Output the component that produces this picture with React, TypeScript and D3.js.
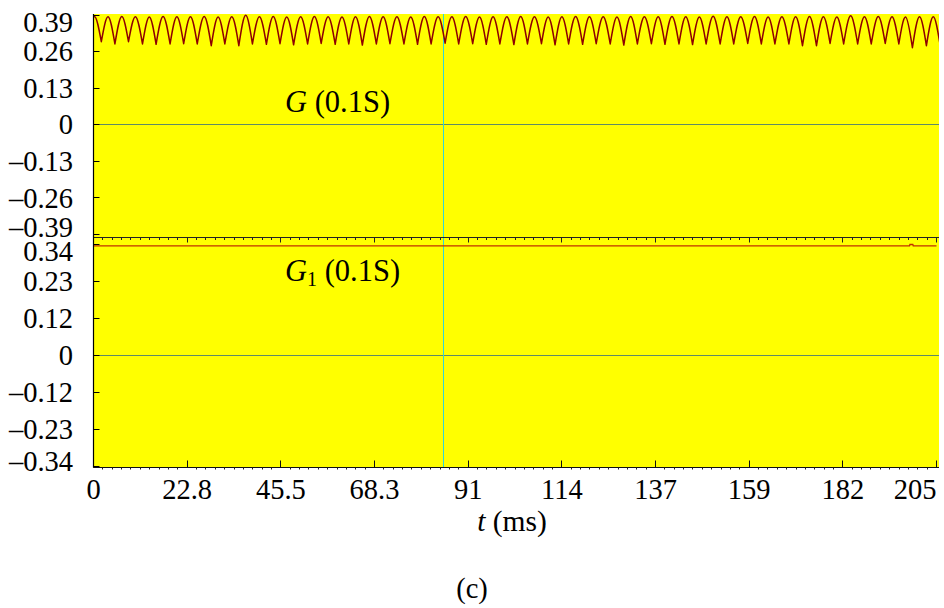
import React from "react";
import * as d3 from "d3";

// ---- data ----
const timeDomain = [0, 204.75];
const xTickValues = [0, 22.75, 45.5, 68.25, 91, 113.75, 136.5, 159.25, 182, 204.75];
const xTickLabels = ["0", "22.8", "45.5", "68.3", "91", "114", "137", "159", "182", "205"];

const gTickValues = [0.39, 0.26, 0.13, 0, -0.13, -0.26, -0.39];
const gTickLabels = ["0.39", "0.26", "0.13", "0", "\u20130.13", "\u20130.26", "\u20130.39"];
const g1TickValues = [0.34, 0.2267, 0.1133, 0, -0.1133, -0.2267, -0.34];
const g1TickLabels = ["0.34", "0.23", "0.12", "0", "\u20130.12", "\u20130.23", "\u20130.34"];

// times (ms) of the cusps (minima) of the rectified waveform G
const gCuspTimes = [
  -1.5, 1.9, 5.2, 8.5, 11.9, 15.2, 18.6, 21.9, 25.2, 28.6, 31.9, 35.3, 38.6, 42.0, 45.3, 48.6,
  52.0, 55.3, 58.7, 62.0, 65.3, 68.7, 72.0, 75.4, 78.7, 82.0, 85.4, 88.7, 92.1, 95.4, 98.7,
  102.1, 105.4, 108.8, 112.1, 115.4, 118.8, 122.1, 125.5, 128.8, 132.1, 135.5, 138.8, 142.2,
  145.5, 148.8, 152.2, 155.5, 158.9, 162.2, 165.5, 168.9, 172.2, 175.6, 178.9, 182.2, 185.6,
  188.9, 192.3, 195.6, 198.9, 202.3, 205.6,
];
// values of G at those cusps
const gCuspValues = [
  0.288, 0.295, 0.287, 0.295, 0.287, 0.286, 0.287, 0.288, 0.287, 0.281, 0.287, 0.281, 0.287,
  0.286, 0.288, 0.284, 0.287, 0.289, 0.286, 0.287, 0.283, 0.287, 0.288, 0.287, 0.286, 0.287,
  0.290, 0.287, 0.288, 0.286, 0.287, 0.285, 0.287, 0.288, 0.284, 0.287, 0.286, 0.288, 0.287,
  0.283, 0.287, 0.288, 0.286, 0.287, 0.285, 0.287, 0.287, 0.287, 0.289, 0.287, 0.287, 0.287,
  0.281, 0.281, 0.289, 0.287, 0.287, 0.287, 0.289, 0.287, 0.274, 0.281, 0.286,
];
// values of G at the top of each hump (between consecutive cusps)
const gPeakValues = [
  0.385, 0.384, 0.385, 0.384, 0.383, 0.385, 0.384, 0.384, 0.385, 0.383, 0.384, 0.389, 0.384,
  0.385, 0.383, 0.384, 0.385, 0.384, 0.383, 0.384, 0.385, 0.384, 0.384, 0.383, 0.385, 0.384,
  0.384, 0.385, 0.383, 0.384, 0.384, 0.385, 0.384, 0.383, 0.384, 0.385, 0.384, 0.384, 0.383,
  0.385, 0.384, 0.384, 0.385, 0.384, 0.383, 0.386, 0.384, 0.384, 0.385, 0.383, 0.384, 0.384,
  0.385, 0.384, 0.383, 0.387, 0.384, 0.385, 0.384, 0.383, 0.384, 0.384,
];

// G1: nearly constant with a tiny blip
const g1Times = [0, 198.2, 198.3, 199.0, 199.1, 204.75];
const g1Values = [0.336, 0.336, 0.340, 0.340, 0.336, 0.336];

const cursorTime = 84.9;

// ---- layout ----
const W = 944;
const H = 608;
const left = 93.5;
const right = 936.5;
const plotRight = 939;
const topTop = 14;
const topBottom = 237.5;
const botTop = 238;
const botBottom = 467.5;
const FONT = "'Liberation Serif', 'Times New Roman', Times, serif";
const FS = 28.5;

export default function App() {
  const x = d3.scaleLinear().domain(timeDomain).range([left, right]);
  const yG = d3.scaleLinear().domain([-0.39, 0.39]).range([234.5, 15]);
  const yG1 = d3.scaleLinear().domain([-0.34, 0.34]).range([466, 244.5]);

  // build G path hump by hump (sharp cusps, rounded tops)
  const humpLine = d3
    .line<[number, number]>()
    .x((d) => x(d[0]))
    .y((d) => yG(d[1]))
    .curve(d3.curveNatural);
  let gPath = "";
  for (let i = 0; i < gCuspTimes.length - 1; i++) {
    const t0 = gCuspTimes[i];
    const t1 = gCuspTimes[i + 1];
    const pts: [number, number][] = [
      [t0, gCuspValues[i]],
      [(t0 + t1) / 2, gPeakValues[i]],
      [t1, gCuspValues[i + 1]],
    ];
    const seg = humpLine(pts) || "";
    gPath += i === 0 ? seg : "L" + seg.slice(1);
  }

  const g1Line = d3
    .line<number>()
    .x((_, i) => x(g1Times[i]))
    .y((d) => yG1(d))
    .curve(d3.curveLinear);
  const g1Path = g1Line(g1Values) || "";

  // minor ticks
  const minorStep = 22.75 / 10;
  const minorTicks = d3.range(0, 91).map((i) => i * minorStep).filter((t) => t <= 204.76);

  const snap = (v: number) => Math.round(v - 0.5) + 0.5;
  const yLabelTop = (v: number) => Math.min(Math.max(yG(v), topTop + 8), topBottom - 10);
  const yLabelBot = (v: number) => Math.min(Math.max(yG1(v), botTop + 13), botBottom - 6);
  const cx = snap(x(cursorTime));

  return (
    <svg
      width={W}
      height={H}
      viewBox={`0 0 ${W} ${H}`}
      style={{ position: "absolute", left: 0, top: 0, background: "#fff" }}
      fontFamily={FONT}
    >
      <defs>
        <clipPath id="clipTop">
          <rect x={left} y={topTop} width={plotRight - left} height={topBottom - topTop} />
        </clipPath>
        <clipPath id="clipBot">
          <rect x={left} y={botTop} width={plotRight - left} height={botBottom - botTop} />
        </clipPath>
      </defs>

      {/* yellow plot background */}
      <rect x={left} y={topTop} width={plotRight - left} height={botBottom - topTop} fill="#ffff00" />

      {/* zero lines */}
      <line x1={left} x2={plotRight} y1={snap(yG(0))} y2={snap(yG(0))} stroke="#5f8a66" strokeWidth={1} />
      <line x1={left} x2={plotRight} y1={snap(yG1(0))} y2={snap(yG1(0))} stroke="#5f8a66" strokeWidth={1} />

      {/* cursor */}
      <line x1={cx} x2={cx} y1={topTop} y2={botBottom} stroke="#2fd6dc" strokeWidth={1} />

      {/* G waveform */}
      <g clipPath="url(#clipTop)">
        <path d={gPath} fill="none" stroke="#8e0000" strokeWidth={1.5} strokeLinejoin="round" />
      </g>
      {/* G1 waveform */}
      <g clipPath="url(#clipBot)">
        <path d={g1Path} fill="none" stroke="#c03000" strokeWidth={1.3} />
      </g>

      {/* separator axis of top panel (ticks pointing down) */}
      <line x1={left} x2={plotRight} y1={topBottom} y2={topBottom} stroke="#222" strokeWidth={1} />
      {minorTicks.map((t, i) => (
        <line
          key={"tm" + i}
          x1={snap(x(t))}
          x2={snap(x(t))}
          y1={topBottom}
          y2={topBottom + (i % 10 === 0 ? 5 : 2.5)}
          stroke="#222"
          strokeWidth={1}
        />
      ))}

      {/* bottom axis */}
      <line x1={left} x2={plotRight} y1={botBottom} y2={botBottom} stroke="#111" strokeWidth={1} />
      {minorTicks.map((t, i) =>
        i % 10 === 0 ? null : (
          <line key={"bm" + i} x1={snap(x(t))} x2={snap(x(t))} y1={botBottom} y2={botBottom + 2} stroke="#222" strokeWidth={1} />
        )
      )}
      {xTickValues.map((t, i) => (
        <line key={"bM" + i} x1={snap(x(t))} x2={snap(x(t))} y1={botBottom} y2={botBottom - 7} stroke="#111" strokeWidth={1} />
      ))}
      {xTickValues.map((t, i) => (
        <text
          key={"bl" + i}
          x={x(t)}
          y={499}
          fontSize={FS}
          textAnchor={i === xTickValues.length - 1 ? "end" : "middle"}
          fill="#000"
        >
          {xTickLabels[i]}
        </text>
      ))}

      {/* left axis */}
      <line x1={left} x2={left} y1={topTop} y2={botBottom} stroke="#000" strokeWidth={1.2} />
      {gTickValues.map((v, i) => (
        <g key={"gt" + i}>
          <line x1={left} x2={left + 6} y1={snap(yG(v))} y2={snap(yG(v))} stroke="#000" strokeWidth={1} />
          <text x={73} y={yLabelTop(v)} dy="0.34em" fontSize={FS} textAnchor="end" fill="#000">
            {gTickLabels[i]}
          </text>
        </g>
      ))}
      {g1TickValues.map((v, i) => (
        <g key={"g1t" + i}>
          <line x1={left} x2={left + 6} y1={snap(yG1(v))} y2={snap(yG1(v))} stroke="#000" strokeWidth={1} />
          <text x={73} y={yLabelBot(v)} dy="0.34em" fontSize={FS} textAnchor="end" fill="#000">
            {g1TickLabels[i]}
          </text>
        </g>
      ))}

      {/* panel labels */}
      <text x={285} y={112} fontSize={30.5} fill="#000">
        <tspan fontStyle="italic">G</tspan>
        <tspan> (0.1S)</tspan>
      </text>
      <text x={285} y={281} fontSize={30.5} fill="#000">
        <tspan fontStyle="italic">G</tspan>
        <tspan fontSize={20} dy={5}>1</tspan>
        <tspan dy={-5}> (0.1S)</tspan>
      </text>

      {/* axis title */}
      <text x={512} y={531} fontSize={29.5} textAnchor="middle" fill="#000">
        <tspan fontStyle="italic">t</tspan>
        <tspan> (ms)</tspan>
      </text>

      {/* caption */}
      <text x={472} y={598} fontSize={FS} textAnchor="middle" fill="#000">
        (c)
      </text>
    </svg>
  );
}
